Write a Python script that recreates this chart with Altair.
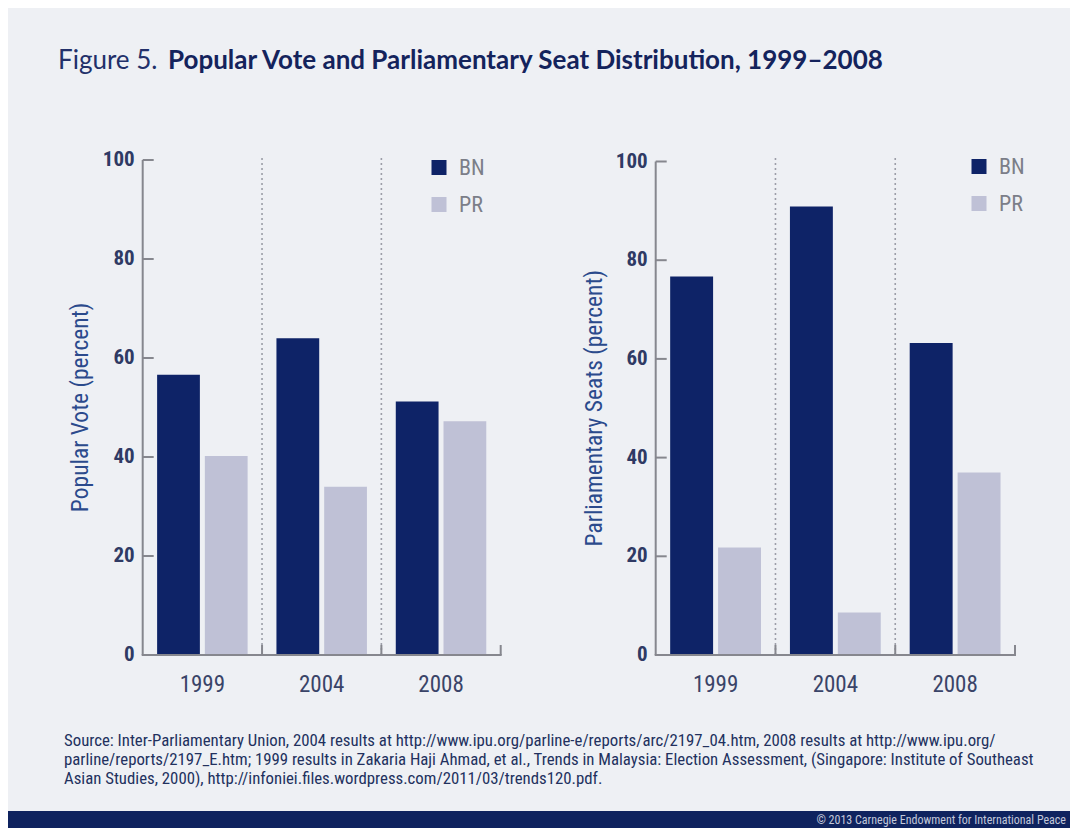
import altair as alt
import pandas as pd

# ---------------- data ----------------
years = ["1999", "2004", "2008"]
parties = ["BN", "PR"]
vote_bn = [56.6, 64.0, 51.2]
vote_pr = [40.2, 34.0, 47.2]
seats_bn = [76.7, 90.9, 63.2]
seats_pr = [21.8, 8.6, 37.0]
y_ticks = [0, 20, 40, 60, 80, 100]
dividers = ["2004", "2008"]
last_year = ["2008"]

title_lead = "Figure 5."
title_main = "Popular Vote and Parliamentary Seat Distribution, 1999\u20132008"
left_ytitle = "Popular Vote (percent)"
right_ytitle = "Parliamentary Seats (percent)"
source_lines = [
    "Source: Inter-Parliamentary Union, 2004 results at http://www.ipu.org/parline-e/reports/arc/2197_04.htm, 2008 results at http://www.ipu.org/",
    "parline/reports/2197_E.htm; 1999 results in Zakaria Haji Ahmad, et al., Trends in Malaysia: Election Assessment, (Singapore: Institute of Southeast",
    "Asian Studies, 2000), http://infoniei.files.wordpress.com/2011/03/trends120.pdf.",
]
copyright_text = "\u00a9 2013 Carnegie Endowment for International Peace"

# ---------------- style ----------------
W, H = 1062, 820
FONT = "Liberation Sans Narrow, Roboto Condensed, DejaVu Sans Condensed, Arial Narrow, sans-serif"
TFONT = "Lato"
BG = "#eef0f4"
BN_COL = "#0e2367"
PR_COL = "#bfc1d6"
AXIS_COL = "#86878e"
DOT_COL = "#9c9ea8"
LABEL_COL = "#2f3a64"
XLABEL_COL = "#3a4468"
YTITLE_COL = "#2b4a8c"


def make_df(bn, pr):
    rows = []
    for i, y in enumerate(years):
        rows.append({"year": y, "party": "BN", "value": bn[i]})
        rows.append({"year": y, "party": "PR", "value": pr[i]})
    return pd.DataFrame(rows)


def panel(df, x_range, y_range, ytitle, title_x, legend_x, legend_y):
    xs = alt.Scale(domain=years, range=x_range, paddingInner=0, paddingOuter=0)
    ys = alt.Scale(domain=[0, 100], range=y_range, nice=False)
    axis_x = x_range[0]
    y0 = alt.YDatum(0, scale=ys, axis=None)

    bars = alt.Chart(df).mark_bar().encode(
        x=alt.X("year:N", scale=xs, sort=years, axis=None),
        xOffset=alt.XOffset(
            "party:N", sort=parties,
            scale=alt.Scale(domain=parties, paddingInner=0.104, paddingOuter=0.302),
        ),
        y=alt.Y("value:Q", scale=ys, axis=None),
        color=alt.Color(
            "party:N",
            scale=alt.Scale(domain=parties, range=[BN_COL, PR_COL]),
            legend=alt.Legend(
                orient="none", legendX=legend_x, legendY=legend_y, title=None,
                direction="vertical", symbolType="square", symbolSize=225,
                symbolStrokeWidth=0, labelFont=FONT, labelFontSize=22,
                labelColor="#7b7e88", labelOffset=9, rowPadding=15, padding=0,
            ),
        ),
    )

    # dotted separators between the year groups
    div_rules = alt.Chart(pd.DataFrame({"year": dividers})).mark_rule(
        color=DOT_COL, strokeWidth=1.6, strokeDash=[2, 3]
    ).encode(
        x=alt.X("year:N", scale=xs, bandPosition=0, axis=None),
        y=y0,
        y2=alt.datum(100.8),
    )

    tick_style = dict(color=AXIS_COL, strokeWidth=2)
    # axis lines
    y_domain = alt.Chart(pd.DataFrame({"t": [0]})).mark_rule(**tick_style).encode(
        x=alt.value(axis_x), y=y0, y2=alt.datum(100),
    )
    x_domain = alt.Chart(pd.DataFrame({"t": [0]})).mark_rule(**tick_style).encode(
        y=y0, x=alt.value(x_range[0] - 1), x2=alt.value(x_range[1] + 1),
    )
    # inward ticks
    bottom_ticks = alt.Chart(pd.DataFrame({"year": dividers})).mark_rule(**tick_style).encode(
        x=alt.X("year:N", scale=xs, bandPosition=0, axis=None),
        y=y0,
        y2=alt.value(y_range[0] - 10),
    )
    end_tick = alt.Chart(pd.DataFrame({"year": last_year})).mark_rule(**tick_style).encode(
        x=alt.X("year:N", scale=xs, bandPosition=1, axis=None),
        y=y0,
        y2=alt.value(y_range[0] - 10),
    )
    y_tick_rules = alt.Chart(pd.DataFrame({"t": y_ticks})).mark_rule(**tick_style).encode(
        y=alt.Y("t:Q", scale=ys, axis=None),
        x=alt.value(axis_x),
        x2=alt.value(axis_x + 11),
    )
    # tick labels
    y_labels = alt.Chart(pd.DataFrame({"t": y_ticks})).mark_text(
        align="right", baseline="middle", font=FONT, fontSize=21,
        fontWeight="bold", color=LABEL_COL, dx=-8,
    ).encode(
        y=alt.Y("t:Q", scale=ys, axis=None),
        x=alt.value(axis_x),
        text=alt.Text("t:Q"),
    )
    x_labels = alt.Chart(pd.DataFrame({"year": years})).mark_text(
        align="center", baseline="middle", font=FONT, fontSize=23,
        color=XLABEL_COL, dy=30,
    ).encode(
        x=alt.X("year:N", scale=xs, axis=None),
        y=y0,
        text=alt.Text("year:N"),
    )
    y_title = alt.Chart(pd.DataFrame({"t": [0]})).mark_text(
        text=ytitle, angle=270, align="center", baseline="middle", font=FONT,
        fontSize=23.5, color=YTITLE_COL,
    ).encode(
        x=alt.value(title_x),
        y=alt.YDatum(50, scale=ys, axis=None),
    )
    return alt.layer(
        bars, div_rules, y_domain, x_domain, bottom_ticks, end_tick,
        y_tick_rules, y_labels, x_labels, y_title,
    )


left = panel(make_df(vote_bn, vote_pr), [134.7, 492.7], [647, 152],
             left_ytitle, 73, 420, 148.5)
right = panel(make_df(seats_bn, seats_pr), [647.7, 1007], [647, 153.5],
              right_ytitle, 587, 960, 147.5)

one = alt.Data(values=[{"k": 1}])

t_lead = alt.Chart(one).mark_text(
    text=title_lead, align="left", baseline="alphabetic", font=TFONT,
    fontSize=26, color="#22306a",
).encode(x=alt.value(50), y=alt.value(61))

t_main = alt.Chart(one).mark_text(
    text=title_main, align="left", baseline="alphabetic", font=TFONT,
    fontSize=26, fontWeight="bold", color="#14235c",
).encode(x=alt.value(160), y=alt.value(61))

src = alt.Chart(one).mark_text(
    text=source_lines, align="left", baseline="middle", font=FONT,
    fontSize=16.8, lineHeight=19, color="#22305e",
).encode(x=alt.value(56), y=alt.value(733))

foot_band = alt.Chart(one).mark_rect(color="#0f235f").encode(
    x=alt.value(0), x2=alt.value(W), y=alt.value(803), y2=alt.value(H)
)
foot_text = alt.Chart(one).mark_text(
    text=copyright_text, align="right", baseline="middle", font=FONT,
    fontSize=12, color="#c3c8da",
).encode(x=alt.value(W - 4), y=alt.value(812))

chart = alt.layer(
    left, right, t_lead, t_main, src, foot_band, foot_text
).resolve_scale(
    x="independent", y="independent", color="independent", xOffset="independent"
).resolve_legend(
    color="independent"
).properties(
    width=W, height=H, padding=0,
    autosize=alt.AutoSizeParams(type="none"),
    background=BG,
).configure(
    font=FONT
).configure_view(
    stroke=None
)

chart.save("out.html", embed_options={"renderer": "svg", "actions": False})
